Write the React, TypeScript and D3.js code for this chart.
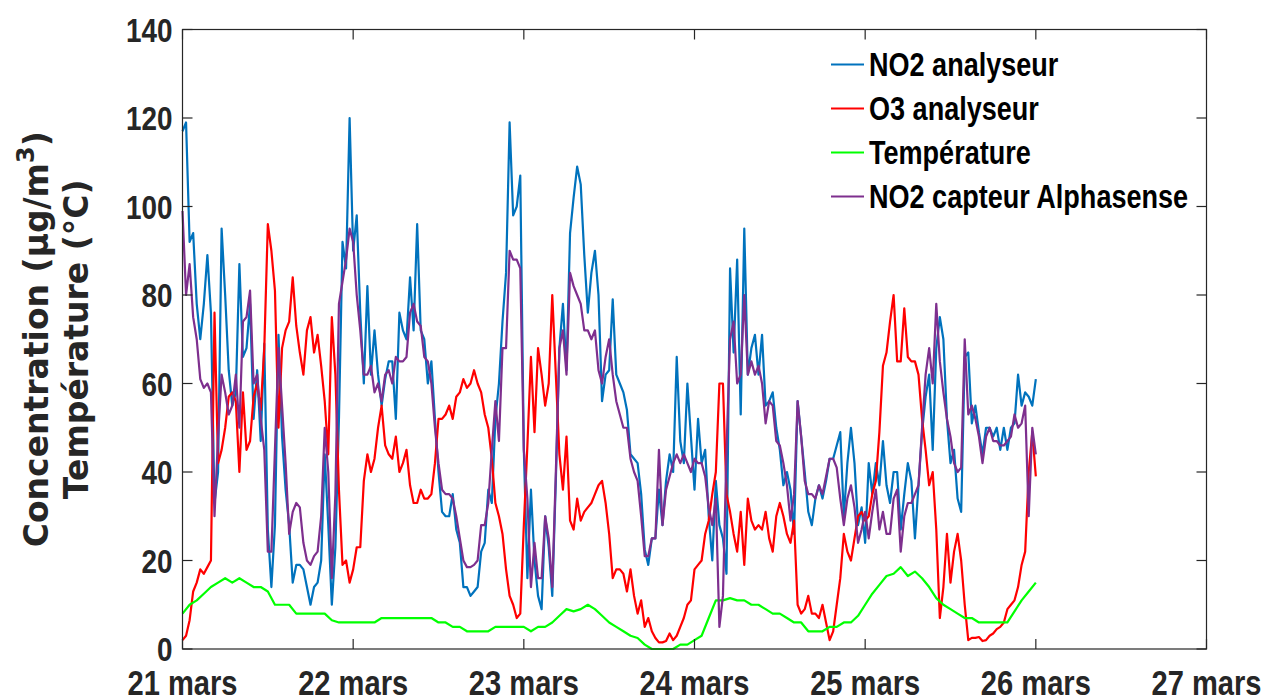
import React from "react";
import * as d3 from "d3";

// Half-hourly values from 21 mars 00:00 to 26 mars 00:00 (241 points)
const no2Analyseur = [
  117, 119, 92, 94, 78, 70, 78, 89, 76, 33, 40, 95, 80, 63, 55, 58, 87, 66, 68, 78, 52, 63, 47, 69, 27, 14, 28, 71, 48, 36, 28, 15, 19, 19, 18, 14, 10, 14, 15, 20, 44, 28, 10, 23, 52, 92, 86, 120,
  90, 98, 76, 60, 82, 62, 72, 62, 55, 61, 65, 65, 52, 76, 72, 70, 84, 72, 96, 72, 70, 60, 65, 52, 40, 31, 30, 30, 35, 27, 24, 14, 14, 12, 13, 14, 22, 24, 36, 33, 52, 60, 74, 85, 119, 98, 100, 107,
  45, 16, 36, 20, 12, 9, 30, 23, 12, 38, 68, 78, 63, 94, 102, 109, 105, 89, 76, 85, 90, 80, 56, 62, 63, 79, 62, 60, 58, 54, 44, 43, 42, 35, 22.5, 19, 25, 25, 36, 28, 38, 44, 40, 66, 47, 42, 60, 48,
  36, 52, 42, 45, 30, 20, 38, 28, 25, 17, 86, 67, 88, 53, 95, 62, 68, 71, 62, 71, 55, 56, 58, 50, 45, 37, 40, 36, 26, 56, 48, 40, 31, 28, 34, 37, 34, 38, 43, 43, 46, 49, 30, 42, 50, 42, 28, 32,
  24, 42, 35, 42, 37, 47, 37, 33, 40, 40, 27, 35, 42, 38, 25, 37, 49, 57, 62, 45, 68, 75, 70, 52, 42, 45, 34, 31, 66, 67, 51, 55, 49, 44, 50, 50, 48, 50, 45, 50, 45, 50, 51, 62, 55, 58, 57, 55, 61,
];

const o3Analyseur = [
  2, 3, 6.5, 13, 15, 18, 17, 18.5, 20, 76, 42, 45, 50, 57, 58, 56, 40, 58, 45, 47, 57, 60, 54, 68, 96, 90, 81, 50, 68, 72, 74, 84, 73, 67, 62, 72, 75, 67, 71, 64, 56, 44, 75, 62, 36, 19, 20, 15,
  18, 23, 23, 38, 44, 40, 43, 50, 55, 46, 44, 43, 48, 40, 42, 45, 37, 33, 33, 36, 34, 34, 35, 42, 52, 52, 53, 55, 52, 57, 58, 61, 59, 60, 63, 60, 58, 53, 50, 43, 33, 30, 26, 18, 12, 10, 7, 8,
  28, 46, 66, 49, 68, 62, 55, 60, 80, 62, 44, 36, 48, 29, 27, 34, 29, 31, 32, 33, 35, 37, 38, 33, 26, 16, 18, 18, 17, 13, 18, 12, 8, 11, 5, 7, 4, 2.5, 1.5, 1.5, 1.8, 3.5, 2, 3, 5, 7, 10, 11,
  18, 19, 20, 26, 29, 35, 40, 60, 60, 35, 31, 26, 22, 31, 19, 34, 29, 27, 28, 27, 31, 25, 22, 30, 33, 30, 26, 24, 29, 10, 8, 9, 12, 8, 8, 7, 10, 6, 2, 4, 10, 16, 26, 22, 20, 25, 30, 31,
  29, 30, 35, 38, 49, 64, 67, 74, 80, 65, 65, 77, 66, 65, 65, 62, 52, 45, 37, 40, 27, 7, 14, 26, 15, 22, 26, 20, 10, 2, 2.5, 2.5, 2.7, 1.8, 2, 3, 3.5, 4.5, 5, 6, 9, 10, 11, 14, 19, 22, 40, 49, 39,
];

const no2Alphasense = [
  99, 80, 87, 75, 70, 61, 59, 60, 58, 30, 48, 62, 58, 53, 55, 62, 50, 74, 75, 81, 60, 62, 52, 45, 22, 22, 45, 68, 55, 42, 26, 31, 33, 32, 24, 20, 19, 21, 22, 30, 50, 40, 16, 35, 78, 83, 88, 95,
  92, 80, 72, 62, 62, 64, 58, 60, 56, 62, 63, 60, 66, 65, 65, 66, 76, 78, 74, 73, 66, 65, 60, 50, 42, 36, 35, 35, 34, 30, 25, 20, 18.5, 18.5, 19, 20, 28, 28, 33, 45, 56, 47, 68, 68, 90, 88, 88, 86,
  45, 34, 14, 24, 16, 16, 30, 25, 14, 40, 68, 72, 62, 85, 82, 80, 78, 72, 72, 70, 72, 63, 60, 66, 70, 62, 56, 53, 50, 50, 43, 40, 38, 30, 21, 21, 25, 25, 45, 28, 36, 39, 42, 44, 42, 44, 42, 40,
  43, 42, 42, 39, 32, 28, 34, 5, 12, 45, 70, 74, 60, 62, 80, 62, 65, 62, 64, 60, 51, 56, 55, 47, 46, 42, 37, 29, 35, 56, 48, 38, 35, 35, 34, 37, 35, 39, 43, 43, 41, 34, 28, 34, 37, 32, 24, 27,
  31, 25, 31, 36, 27, 31, 26, 26, 34, 36, 22, 30, 33, 33, 35, 37, 50, 62, 68, 60, 78, 65, 58, 52, 48, 42, 40, 41, 70, 53, 55, 52, 48, 42, 48, 50, 47, 47, 46, 46, 47, 48, 53, 50, 51, 55, 30, 50, 44,
];

// Hourly temperature from 21 mars 00:00 to 26 mars 00:00 (121 points)
const temperature = [
  8, 10, 11, 12.5, 14, 15, 16, 15, 16, 15, 14, 14, 13, 10, 10, 10, 8, 8, 8, 8, 8, 6.5, 6, 6,
  6, 6, 6, 6, 7, 7, 7, 7, 7, 7, 7, 7, 6, 6, 5, 5, 4, 4, 4, 4, 5, 5, 5, 5,
  5, 4, 5, 5, 6, 7.5, 9, 8.5, 9, 10, 9, 7.5, 6, 5, 4, 3, 2.5, 1, 0, 0, 0, 0, 1, 1,
  2, 3, 7, 11, 11, 11.5, 11, 11, 10, 10, 9, 8, 8, 7, 6, 6, 4, 4, 4, 5, 5, 6, 6, 7.5,
  10, 12.5, 14.5, 16.5, 17, 18.5, 16.5, 17.5, 16, 14, 11.5, 10, 9, 8, 7, 7, 6, 6, 6, 6, 6, 8.5, 11, 13, 15,
];

const dayLabels = ["21 mars", "22 mars", "23 mars", "24 mars", "25 mars", "26 mars", "27 mars"];
const yTicks = [0, 20, 40, 60, 80, 100, 120, 140];

const seriesNames = ["NO2 analyseur", "O3 analyseur", "Température", "NO2 capteur Alphasense"];
const seriesColors = ["#0072BD", "#FF0000", "#00FF00", "#7E2F8E"];

const W = 1266;
const H = 699;
const L = 182.5;
const R = 1206.5;
const T = 29.5;
const B = 649;

const sans = "'Liberation Sans', Arial, sans-serif";
const NARROW = 0.82;

function NarrowText(props: {
  x: number;
  y: number;
  size: number;
  anchor?: string;
  fill: string;
  children: React.ReactNode;
}) {
  return (
    <g transform={`translate(${props.x}, ${props.y}) scale(${NARROW}, 1)`}>
      <text
        x={0}
        y={0}
        textAnchor={props.anchor || "start"}
        fontFamily={sans}
        fontWeight="bold"
        fontSize={props.size}
        fill={props.fill}
      >
        {props.children}
      </text>
    </g>
  );
}

export default function App() {
  const x = d3.scaleLinear().domain([0, 144]).range([L, R]);
  const y = d3.scaleLinear().domain([0, 140]).range([B, T]);

  const halfLine = d3
    .line<number>()
    .x((_, i) => x(i * 0.5))
    .y((v) => y(v));
  const hourLine = d3
    .line<number>()
    .x((_, i) => x(i))
    .y((v) => y(v));

  const paths = [
    { d: halfLine(no2Analyseur), c: seriesColors[0] },
    { d: halfLine(o3Analyseur), c: seriesColors[1] },
    { d: hourLine(temperature), c: seriesColors[2] },
    { d: halfLine(no2Alphasense), c: seriesColors[3] },
  ];

  const tickLen = 10;
  const axisColor = "#262626";

  return (
    <svg
      width={W}
      height={H}
      style={{ position: "absolute", left: 0, top: 0, background: "#fff" }}
    >
      <rect x={0} y={0} width={W} height={H} fill="#fff" />
      <g>
        {paths.map((p, i) => (
          <path
            key={i}
            d={p.d || ""}
            fill="none"
            stroke={p.c}
            strokeWidth={2.2}
            strokeLinejoin="round"
          />
        ))}
      </g>
      {/* Axes box */}
      <rect x={L} y={T} width={R - L} height={B - T} fill="none" stroke={axisColor} strokeWidth={1.2} />
      {/* Y ticks */}
      {yTicks.map((v) => (
        <g key={"y" + v}>
          <line x1={L} x2={L + tickLen} y1={y(v)} y2={y(v)} stroke={axisColor} strokeWidth={1.2} />
          <line x1={R} x2={R - tickLen} y1={y(v)} y2={y(v)} stroke={axisColor} strokeWidth={1.2} />
          <NarrowText x={L - 10} y={y(v) + 12} size={34} anchor="end" fill={axisColor}>
            {v}
          </NarrowText>
        </g>
      ))}
      {/* X ticks */}
      {dayLabels.map((lab, i) => (
        <g key={"x" + i}>
          <line x1={x(i * 24)} x2={x(i * 24)} y1={B} y2={B - tickLen} stroke={axisColor} strokeWidth={1.2} />
          <line x1={x(i * 24)} x2={x(i * 24)} y1={T} y2={T + tickLen} stroke={axisColor} strokeWidth={1.2} />
          <NarrowText x={x(i * 24)} y={695} size={35.5} anchor="middle" fill={axisColor}>
            {lab}
          </NarrowText>
        </g>
      ))}
      {/* Y axis title */}
      <g transform={`translate(48, ${(T + B) / 2}) rotate(-90)`}>
        <text
          x={0}
          y={0}
          textAnchor="middle"
          fontFamily="'DejaVu Sans', sans-serif"
          fontWeight="bold"
          fontSize={33}
          fill={axisColor}
        >
          Concentration (µg/m
          <tspan fontSize={24} dy={-14}>3</tspan>
          <tspan dy={14}>)</tspan>
        </text>
      </g>
      <g transform={`translate(88, ${(T + B) / 2}) rotate(-90)`}>
        <text
          x={0}
          y={0}
          textAnchor="middle"
          fontFamily="'DejaVu Sans', sans-serif"
          fontWeight="bold"
          fontSize={33}
          fill={axisColor}
        >
          Température (°C)
        </text>
      </g>
      {/* Legend */}
      {seriesNames.map((name, i) => {
        const ly = 64.5 + i * 44;
        return (
          <g key={"lg" + i}>
            <line x1={831} x2={864} y1={ly} y2={ly} stroke={seriesColors[i]} strokeWidth={2.2} />
            <NarrowText x={869} y={ly + 11.5} size={33} fill="#000">
              {name}
            </NarrowText>
          </g>
        );
      })}
    </svg>
  );
}
